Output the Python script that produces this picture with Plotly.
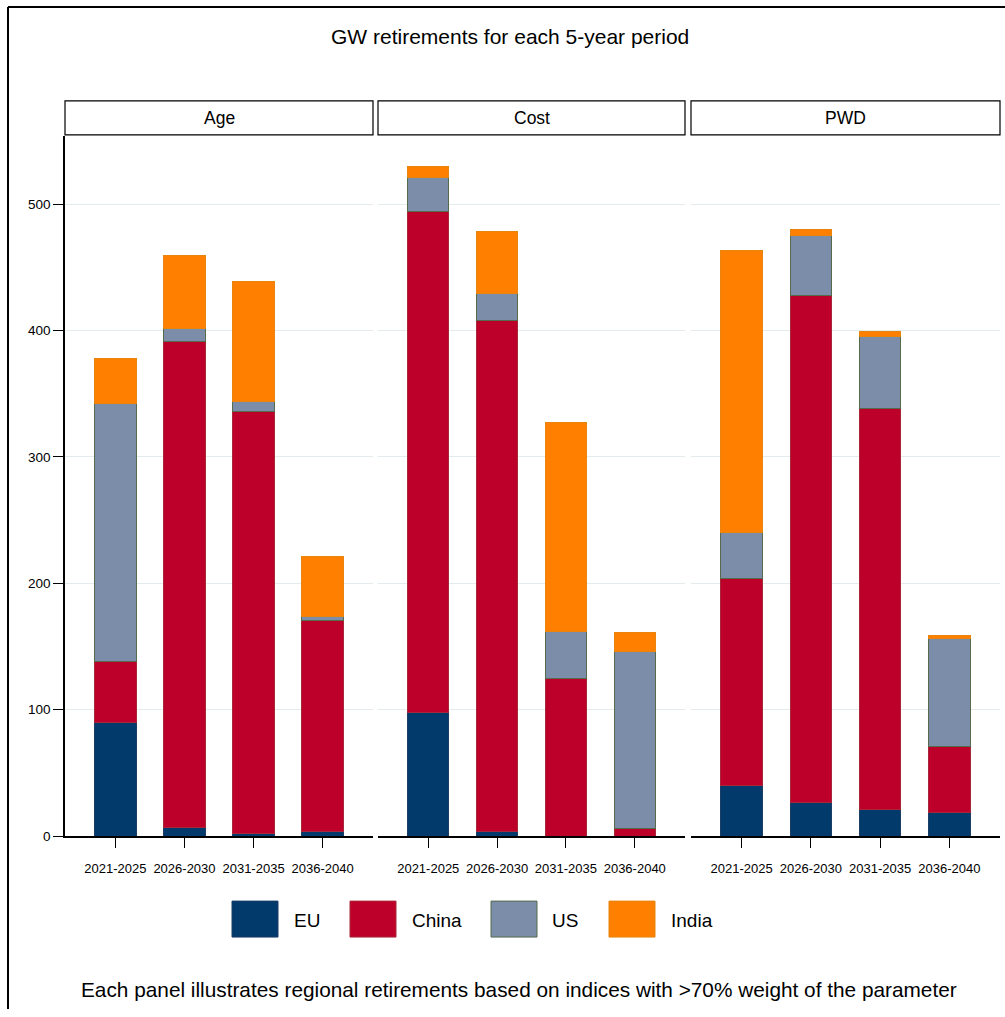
import plotly.graph_objects as go

W, H = 1005, 1017
H_RENDER = 1010  # observed effective render height used to map pixel targets

periods = ["2021-2025", "2026-2030", "2031-2035", "2036-2040"]
panels = ["Age", "Cost", "PWD"]
regions = ["EU", "China", "US", "India"]

# Segment sizes (GW) per panel, per period
age_eu = [90, 7, 2, 3.5]
age_china = [48, 384, 334, 167]
age_us = [204, 11, 8, 3]
age_india = [36, 57, 95, 48]

cost_eu = [98, 4, 0, 0]
cost_china = [396, 404, 125, 6]
cost_us = [27, 21, 37, 140]
cost_india = [9, 49, 165, 15]

pwd_eu = [40, 27, 21, 19]
pwd_china = [164, 401, 317, 52]
pwd_us = [36, 47, 57, 85]
pwd_india = [223, 5, 4, 3]

data = {
    "Age": [age_eu, age_china, age_us, age_india],
    "Cost": [cost_eu, cost_china, cost_us, cost_india],
    "PWD": [pwd_eu, pwd_china, pwd_us, pwd_india],
}

fills = {"EU": "#013a6b", "China": "#bd0029", "US": "#7b8da8", "India": "#ff7f00"}
lines = {"EU": "#1c3d66", "China": "#a8283a", "US": "#566a4c", "India": "#e8850f"}

FONT = "Liberation Sans, Arial, sans-serif"

def px_x(p):
    return p / W

def px_y(p):
    return 1 - p / H_RENDER

x_domains = [(65, 373), (378, 685), (691, 1000)]
y_dom = [px_y(837), px_y(136)]

fig = go.Figure()
layout = dict(
    width=W, height=H,
    margin=dict(l=0, r=0, t=0, b=0),
    paper_bgcolor="white", plot_bgcolor="white",
    barmode="stack", showlegend=False,
    font=dict(family=FONT, color="black"),
)

for i, pan in enumerate(panels):
    xa = "x" if i == 0 else f"x{i+1}"
    ya = "y" if i == 0 else f"y{i+1}"
    for r, reg in enumerate(regions):
        fig.add_trace(go.Bar(
            x=periods, y=data[pan][r], name=reg, xaxis=xa, yaxis=ya,
            width=0.6,
            marker=dict(color=fills[reg], line=dict(color=lines[reg], width=1)),
        ))
    xkey = "xaxis" if i == 0 else f"xaxis{i+1}"
    ykey = "yaxis" if i == 0 else f"yaxis{i+1}"
    layout[xkey] = dict(
        domain=[px_x(x_domains[i][0]), px_x(x_domains[i][1])],
        anchor=ya, type="category", range=[-0.73, 3.73],
        showline=True, linecolor="black", linewidth=1.5,
        ticks="outside", ticklen=10, tickcolor="black", tickwidth=1,
        tickfont=dict(size=13, family=FONT, color="black"),
        ticklabelstandoff=9,
        showgrid=False, zeroline=False, fixedrange=True,
    )
    layout[ykey] = dict(
        domain=y_dom, anchor=xa, range=[0, 554],
        tickvals=[0, 100, 200, 300, 400, 500],
        showgrid=True, gridcolor="#e3ebef", gridwidth=1,
        zeroline=False,
        showline=(i == 0), linecolor="black", linewidth=1.5,
        ticks="outside" if i == 0 else "", ticklen=10, tickcolor="black",
        showticklabels=(i == 0),
        tickfont=dict(size=13.5, family=FONT, color="black"),
        fixedrange=True,
    )
    if i > 0:
        layout[ykey]["matches"] = "y"

shapes = []
annotations = []

# Outer frame (top and left visible)
shapes.append(dict(type="line", xref="paper", yref="paper",
                   x0=px_x(8), x1=px_x(1005), y0=px_y(7), y1=px_y(7),
                   line=dict(color="black", width=2)))
shapes.append(dict(type="line", xref="paper", yref="paper",
                   x0=px_x(8), x1=px_x(8), y0=px_y(7), y1=0,
                   line=dict(color="black", width=2)))

# Strip headers
for i, pan in enumerate(panels):
    x0, x1 = x_domains[i]
    shapes.append(dict(type="rect", xref="paper", yref="paper",
                       x0=px_x(x0), x1=px_x(x1), y0=px_y(135), y1=px_y(101),
                       line=dict(color="black", width=1.2), fillcolor="white"))
    annotations.append(dict(text=pan, xref="paper", yref="paper",
                            x=px_x((x0 + x1) / 2), y=px_y(118),
                            xanchor="center", yanchor="middle", showarrow=False,
                            font=dict(size=17.5, family=FONT, color="black")))

# Title
annotations.append(dict(text="GW retirements for each 5-year period", xref="paper", yref="paper",
                        x=px_x(510), y=px_y(37), xanchor="center", yanchor="middle",
                        showarrow=False, font=dict(size=21, family=FONT, color="black")))

# Legend
leg = [("EU", 232, 292), ("China", 350, 410), ("US", 491, 550), ("India", 609, 669)]
for reg, bx, tx in leg:
    shapes.append(dict(type="rect", xref="paper", yref="paper",
                       x0=px_x(bx), x1=px_x(bx + 46), y0=px_y(938), y1=px_y(902),
                       fillcolor=fills[reg], line=dict(color=lines[reg], width=1)))
    annotations.append(dict(text=reg, xref="paper", yref="paper",
                            x=px_x(tx), y=px_y(921), xanchor="left", yanchor="middle",
                            showarrow=False, font=dict(size=19, family=FONT, color="black")))

# Caption
annotations.append(dict(
    text="Each panel illustrates regional retirements based on indices with >70% weight of the parameter",
    xref="paper", yref="paper", x=px_x(519), y=px_y(990), xanchor="center", yanchor="middle",
    showarrow=False, font=dict(size=20.8, family=FONT, color="black")))

layout["shapes"] = shapes
layout["annotations"] = annotations
fig.update_layout(**layout)

fig.write_html("out.html")
